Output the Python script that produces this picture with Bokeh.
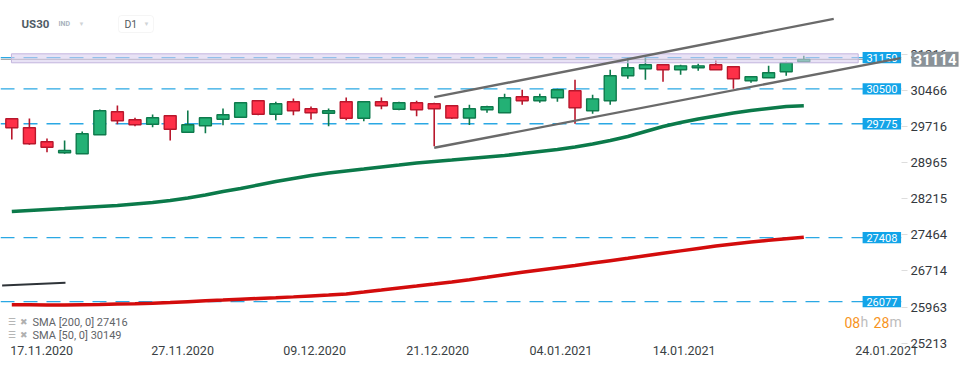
from bokeh.plotting import figure
from bokeh.models import (ColumnDataSource, FixedTicker, Span, Label, BoxAnnotation,
                          PolyAnnotation, Range1d, CustomJSTickFormatter)
from bokeh.core.properties import value
from bokeh.embed import file_html
from bokeh.resources import INLINE

FONT = "Roboto"

# ---------------- data ----------------
opens = [29878, 29691, 29400, 29171, 29150, 29545, 30023, 29857, 29766, 29940,
         29599, 29732, 29869, 29911, 30252, 29973, 30231, 30086, 29994, 30231,
         29890, 30231, 30077, 30210, 30190, 30148, 29895, 30065, 30003, 30335,
         30252, 30314, 30460, 30044, 30252, 30772, 30917, 31000, 30896, 30938,
         31000, 30959, 30668, 30730, 30855, 31063]
highs = [29890, 29884, 29468, 29427, 29614, 30071, 30154, 29899, 29967, 29940,
         30050, 29899, 30092, 30210, 30252, 30231, 30300, 30133, 30092, 30320,
         30231, 30320, 30231, 30252, 30210, 30148, 30169, 30148, 30397, 30481,
         30397, 30501, 30688, 30377, 30896, 31146, 31146, 31000, 31000, 31021,
         31090, 30959, 30751, 30979, 31063, 31187]
lows = [29447, 29337, 29183, 29150, 29150, 29545, 29766, 29724, 29703, 29427,
        29599, 29578, 29745, 29911, 29953, 29849, 29953, 29863, 29724, 29849,
        29828, 30077, 30057, 29932, 29308, 29874, 29749, 30003, 30003, 30169,
        30210, 30231, 29774, 29982, 30169, 30709, 30688, 30647, 30792, 30875,
        30896, 30501, 30626, 30730, 30772, 31063]
closes = [29691, 29358, 29287, 29219, 29566, 30044, 29836, 29753, 29899, 29662,
          29753, 29899, 29961, 30210, 29973, 30190, 30044, 30003, 30044, 29890,
          30231, 30148, 30210, 30065, 30086, 29895, 30086, 30127, 30314, 30252,
          30335, 30481, 30106, 30293, 30772, 30938, 31000, 30896, 30979, 30979,
          30896, 30709, 30751, 30834, 31042, 31114]

sma50 = [27951, 27972, 27993, 28013, 28034, 28055, 28076, 28107, 28138, 28180,
         28232, 28294, 28367, 28429, 28502, 28575, 28637, 28699, 28751, 28793,
         28834, 28876, 28917, 28959, 28990, 29021, 29053, 29084, 29115, 29156,
         29198, 29240, 29292, 29354, 29427, 29510, 29614, 29718, 29801, 29874,
         29936, 29998, 30050, 30092, 30133, 30149]
sma200 = [26012, 26012, 26007, 26005, 26012, 26018, 26026, 26034, 26045, 26059,
          26076, 26093, 26109, 26126, 26143, 26159, 26176, 26195, 26213, 26238,
          26276, 26317, 26359, 26400, 26442, 26486, 26533, 26583, 26635, 26687,
          26735, 26783, 26828, 26878, 26928, 26978, 27030, 27082, 27132, 27182,
          27232, 27277, 27317, 27352, 27385, 27416]

levels = [31150, 30500, 29775, 27408, 26077]
level_labels = ["31150", "30500", "29775", "27408", "26077"]
last_price = 31114
last_label = "31114"

price_ticks = [25213, 25963, 26714, 27464, 28215, 28965, 29716, 30466, 31216]
date_ticks = [0, 8, 15.5, 22.5, 29.5, 36.5, 48]
date_labels = ["17.11.2020", "27.11.2020", "09.12.2020", "21.12.2020",
               "04.01.2021", "14.01.2021", "24.01.2021"]

channel_upper_x = [24, 46.7]
channel_upper_y = [30327, 31956]
channel_lower_x = [24, 50.5]
channel_lower_y = [29275, 31140]
old_trend_x = [-0.55, 3.05]
old_trend_y = [26413, 26469]

zone_x = [-0.02, 48.09]
zone_y = [31042, 31229]

legend_rows = ["SMA [200, 0] 27416", "SMA [50, 0] 30149"]
# ------------------------------------------------------------------

p = figure(frame_width=901, frame_height=344,
           x_range=Range1d(-0.642, 50.55), y_range=Range1d(25186, 32337),
           y_axis_location="right", toolbar_location=None, output_backend="svg",
           min_border_left=0, min_border_top=0, min_border_right=61, min_border_bottom=16,
           background_fill_color="white", border_fill_color="white",
           outline_line_color=None)
p.grid.visible = False

# x axis: labels start at the date position (left aligned), so the tick sits
# half a label width to the right of it
HALF_LABEL = 1.7
label_ticks = [t + HALF_LABEL for t in date_ticks]
xa = p.xaxis[0]
xa.ticker = FixedTicker(ticks=label_ticks)
xa.formatter = CustomJSTickFormatter(args=dict(tvals=label_ticks, tnames=date_labels), code="""
for (let i = 0; i < tvals.length; i++) { if (Math.abs(tvals[i] - tick) < 1e-6) return tnames[i]; }
return '';
""")
xa.axis_line_color = None
xa.major_tick_line_color = None
xa.major_tick_in = 0
xa.major_tick_out = 0
xa.minor_tick_line_color = None
xa.minor_tick_in = 0
xa.minor_tick_out = 0
xa.major_label_standoff = 1
xa.major_label_text_font = FONT
xa.major_label_text_font_size = "12.5px"
xa.major_label_text_color = "#3a3f44"

# y axis (right)
ya = p.yaxis[0]
ya.ticker = FixedTicker(ticks=price_ticks)
ya.axis_line_color = None
ya.major_tick_in = 0
ya.major_tick_out = 6
ya.major_tick_line_color = "#dddddd"
ya.minor_tick_line_color = None
ya.major_label_standoff = 3
ya.major_label_text_font = FONT
ya.major_label_text_font_size = "13px"
ya.major_label_text_color = "#33383d"

# horizontal levels and last price
for lv in levels:
    p.add_layout(Span(location=lv, dimension="width", line_color="#2aa8e4",
                      line_dash="14 9", line_width=1.3, level="underlay"))
p.add_layout(Span(location=last_price, dimension="width", line_color="#9a9a9a",
                  line_width=1, level="underlay"))

# moving averages
xs = list(range(len(opens)))
p.line(xs, sma50, line_color="#0b7a4a", line_width=3.5)
p.line(xs, sma200, line_color="#d30c0c", line_width=3.5)

# candles
inc = [c >= o for o, c in zip(opens, closes)]
src = ColumnDataSource(dict(
    x=xs,
    top=[max(o, c) for o, c in zip(opens, closes)],
    bottom=[min(o, c) for o, c in zip(opens, closes)],
    high=highs, low=lows,
    fill=["#23b175" if u else "#fe3048" for u in inc],
    edge=["#0e7a4c" if u else "#b8172c" for u in inc],
))
p.segment(x0="x", y0="high", x1="x", y1="low", line_color="edge", line_width=1.6, source=src)
p.vbar(x="x", width=0.68, top="top", bottom="bottom", fill_color="fill",
       line_color="edge", line_width=1.4, source=src)

# zone band
p.quad(left=[zone_x[0]], right=[zone_x[1]], bottom=[zone_y[0]], top=[zone_y[1]],
       fill_color="#d9cfee", fill_alpha=0.6, line_color="#c3b6de", line_width=1)

# level tags
TAG_L, TAG_R, TAG_H = 48.34, 50.53, 118
p.quad(left=[TAG_L] * len(levels), right=[TAG_R] * len(levels),
       bottom=[lv - TAG_H for lv in levels], top=[lv + TAG_H for lv in levels],
       fill_color="#13a4e8", line_color=None)
p.text(x=[(TAG_L + TAG_R) / 2] * len(levels), y=levels, text=level_labels,
       text_color="white", text_font=value(FONT), text_font_size="11px",
       text_align="center", text_baseline="middle")

# channel and old trend line
p.line(channel_upper_x, channel_upper_y, line_color="#6a6a6a", line_width=2.4)
p.line(channel_lower_x, channel_lower_y, line_color="#6a6a6a", line_width=2.4)
p.line(old_trend_x, old_trend_y, line_color="#2e3338", line_width=2)

# last price tag (placed in the right panel so it is not clipped to the frame)
p.add_layout(PolyAnnotation(xs=[50.68, 51.16, 51.16], ys=[last_price, last_price + 175, last_price - 175],
                            fill_color="#8a9298", fill_alpha=1, line_color=None), "right")
p.add_layout(Label(x=51.12, y=last_price, text=last_label, text_font=FONT,
                   text_font_size="15px", text_font_style="bold", text_color="white",
                   text_align="left", text_baseline="middle",
                   background_fill_color="#8a9298", padding=2), "right")


def lab(x, y, text, size, color, style="normal", align="left"):
    p.add_layout(Label(x=x, y=y, text=text, text_font=FONT, text_font_size=size,
                       text_color=color, text_font_style=style, text_align=align,
                       text_baseline="middle"))


# header
lab(0.55, 31852, "US30", "11.5px", "#4f5b66", "bold")
lab(2.65, 31848, "IND", "7px", "#a9b3bd", "bold")
lab(3.79, 31860, "▼", "6px", "#cfd3d6")
p.add_layout(BoxAnnotation(left=6.06, right=8.05, bottom=31672, top=32025,
                           fill_color="white", fill_alpha=1, line_color="#dedede",
                           border_radius=3))
lab(6.40, 31848, "D1", "10.5px", "#555b60")
lab(7.48, 31860, "▼", "6px", "#cfd3d6")

# legend rows
for row, yv in zip(legend_rows, [25650, 25380]):
    lab(-0.244, yv, "☰", "9px", "#a8a8a8")
    lab(0.494, yv, "✖", "9px", "#b0b0b0")
    lab(1.176, yv, row, "11px", "#5f6468")

# timer
lab(47.31, 25644, "08", "14px", "#f7941d")
lab(48.22, 25644, "h", "14px", "#bdbdbd")
lab(48.96, 25644, "28", "14px", "#f7941d")
lab(49.87, 25644, "m", "14px", "#bdbdbd")

open("out.html", "w").write(file_html(p, INLINE))
